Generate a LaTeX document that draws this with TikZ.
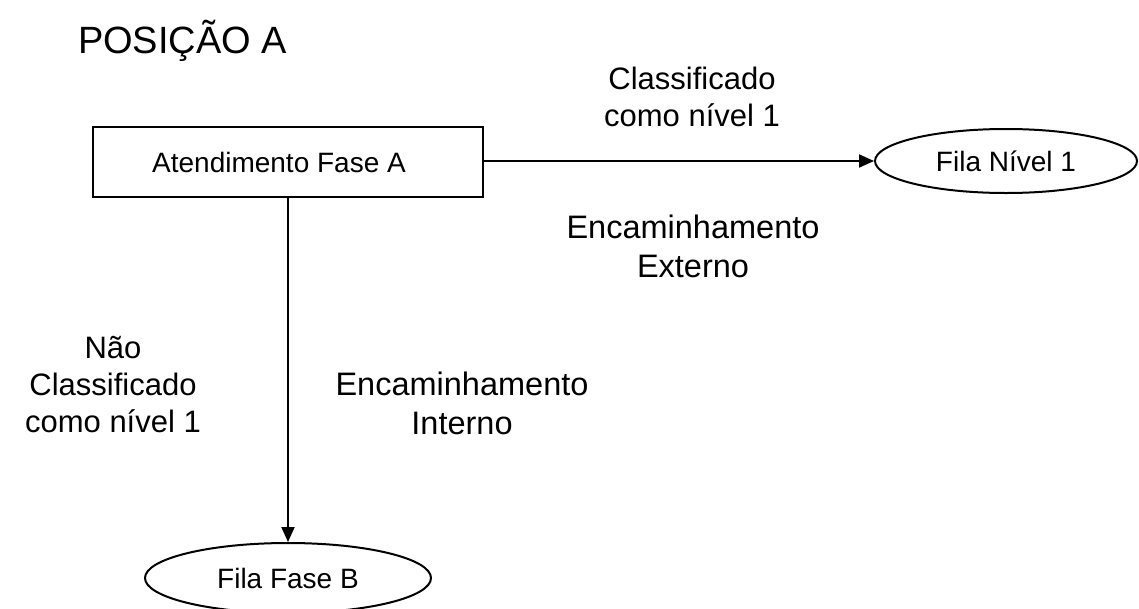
\documentclass[tikz,border=0pt]{standalone}
\usepackage{fontspec}
\setmainfont{Liberation Sans}
\usetikzlibrary{arrows.meta,shapes.geometric}
\begin{document}
\begin{tikzpicture}[x=1pt,y=-1pt,
  line width=2pt,
  procbox/.style={draw,rectangle,minimum width=390pt,minimum height=70pt,inner sep=0pt,font=\fontsize{28}{33}\selectfont},
  queue/.style={draw,ellipse,inner sep=0pt,font=\fontsize{28}{33}\selectfont},
  lbl/.style={align=center,font=\fontsize{31}{37}\selectfont,inner sep=0pt},
  lblwide/.style={lbl,font=\fontsize{32.5}{39}\selectfont},
  flow/.style={-{Triangle[length=15pt,width=13pt]}}]
\useasboundingbox (0,0) rectangle (1139,608);
\node[anchor=base west,font=\fontsize{38}{44}\selectfont,inner sep=0pt] (title) at (77,53) {POSIÇÃO A};
\node[procbox] (fa) at (288,162) {\hspace*{-18pt}Atendimento Fase A};
\node[queue,minimum width=262pt,minimum height=64pt] (n1) at (1006,161) {Fila Nível 1};
\node[queue,minimum width=286pt,minimum height=70pt] (fb) at (288,578) {Fila Fase B};
\draw[flow] (fa.east |- n1.west) -- (n1.west);
\draw[flow] (fa.south) -- (fb.north);
\node[lbl] (l1) at (692,97) {Classificado\\como nível 1};
\node[lblwide] (l2) at (693,246) {Encaminhamento\\Externo};
\node[lbl] (l3) at (113,385) {Não\\Classificado\\como nível 1};
\node[lblwide] (l4) at (462,403) {Encaminhamento\\Interno};
\end{tikzpicture}
\end{document}
